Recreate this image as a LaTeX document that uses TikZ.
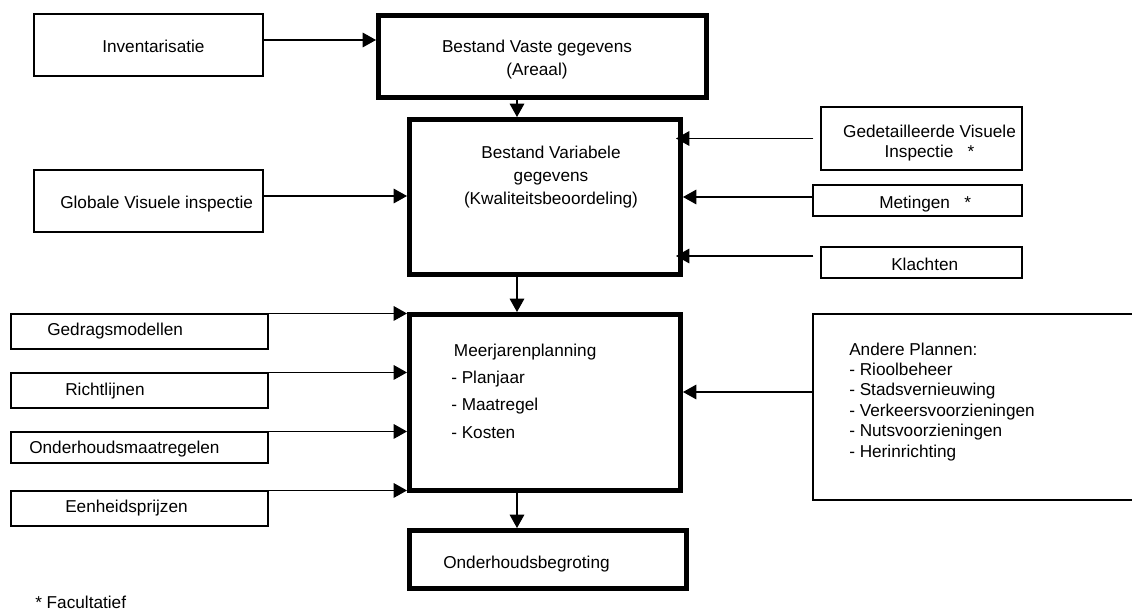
\documentclass[tikz,border=0pt]{standalone}
\usepackage{fontspec}
\setmainfont{Liberation Sans}
\usetikzlibrary{arrows.meta}
\newlength{\px}\setlength{\px}{0.75pt}
\tikzset{
  box/.style={draw, line width=0.8pt, inner sep=0pt},
  bigbox/.style={draw, line width=3.4pt, inner sep=0pt},
  arr/.style={-{Triangle[length=10pt,width=11pt]}, line width=0.8pt},
  txt/.style={inner sep=0pt, anchor=base west},
  ctxt/.style={inner sep=0pt, anchor=base, align=center},
  every node/.style={font=\fontsize{12.9}{15.3}\selectfont}
}
\begin{document}
\begin{tikzpicture}[x=0.75pt,y=-0.75pt]
\useasboundingbox (0,0) rectangle (1132,610);
\clip (0,0) rectangle (1132,610);

% main column
\node[bigbox, minimum width=328.5\px, minimum height=82.5\px] (vaste) at (542.5,56.5) {};
\node[bigbox, minimum width=271.5\px, minimum height=155.5\px] (var) at (545,197) {};
\node[bigbox, minimum width=271.5\px, minimum height=176.5\px] (meer) at (545,402.5) {};
\node[bigbox, minimum width=277.5\px, minimum height=58.5\px] (begr) at (548,559.5) {};

% multi-line texts sit on their last baseline
\node[txt] (begrtxt) at (443,568) {Onderhoudsbegroting};
\node[ctxt, font=\fontsize{12.9}{17.25}\selectfont] (vastetxt) at (537,76) {Bestand Vaste gegevens\\(Areaal)};
\node[ctxt, font=\fontsize{12.9}{16.9}\selectfont] (vartxt) at (551,204) {Bestand Variabele\\gegevens\\(Kwaliteitsbeoordeling)};
\node[txt, align=left, font=\fontsize{12.9}{20.5}\selectfont] (meertxt) at (451,438) {\hspace*{2pt}Meerjarenplanning\\- Planjaar\\- Maatregel\\- Kosten};

% inputs
\node[box, minimum width=229\px, minimum height=62\px] (inv) at (148.5,45) {};
\node[box, minimum width=229\px, minimum height=62\px] (glob) at (148.5,201) {};
\node[txt] (invtxt) at (102,53) {Inventarisatie};
\node[txt] (globtxt) at (60,208) {Globale Visuele inspectie};

\node[box, minimum width=201\px, minimum height=63\px] (ged) at (921.5,138.5) {};
\node[box, minimum width=209\px, minimum height=31\px] (met) at (917.5,200.5) {};
\node[box, minimum width=201\px, minimum height=31\px] (kla) at (921.5,262.5) {};
\node[ctxt, font=\fontsize{12.9}{15}\selectfont] (gedtxt) at (929.5,157) {Gedetailleerde Visuele\\Inspectie~~~*};
\node[txt] (mettxt) at (879,208) {Metingen~~~*};
\node[txt] (klatxt) at (891,270) {Klachten};

\foreach \n/\y/\h in {gedrag/331.5/35, richt/390.5/35, ondmaat/447.5/31, eenh/508.5/35}
  \node[box, minimum width=257\px, minimum height=\h\px] (\n) at (139.5,\y) {};
\node[txt] (gedragtxt) at (47,335) {Gedragsmodellen};
\node[txt] (richttxt) at (65,395) {Richtlijnen};
\node[txt] (ondmaattxt) at (29,453) {Onderhoudsmaatregelen};
\node[txt] (eenhtxt) at (65,512) {Eenheidsprijzen};

\node[box, minimum width=327\px, minimum height=186\px] (andere) at (976.5,407) {};
\node[txt, align=left] (anderetxt) at (849,457) {Andere Plannen:\\- Rioolbeheer\\- Stadsvernieuwing\\- Verkeersvoorzieningen\\- Nutsvoorzieningen\\- Herinrichting};

\node[txt] (fac) at (35,608) {* Facultatief};

% arrows
\coordinate (spine) at (517,0);
\draw[arr] (vaste.south -| spine) -- (var.north -| spine);
\draw[arr] (var.south -| spine) -- (meer.north -| spine);
\draw[arr] (meer.south -| spine) -- (begr.north -| spine);

\draw[arr] ([yshift=5\px]inv.east) -- ([yshift=5\px]inv.east -| vaste.west);
\draw[arr] ([yshift=5\px]glob.east) -- ([yshift=5\px]glob.east -| var.west);
\draw[arr] ([xshift=-7\px]ged.west) -- ([xshift=-7\px]ged.west -| var.east);
\draw[arr] ([yshift=3.5\px]met.west) -- ([yshift=3.5\px]met.west -| var.east);
\draw[arr] ([xshift=-7\px,yshift=6.5\px]kla.west) -- ([xshift=-7\px,yshift=6.5\px]kla.west -| var.east);
\draw[arr] ([yshift=15\px]andere.west) -- ([yshift=15\px]andere.west -| meer.east);
\foreach \n in {gedrag,richt,ondmaat,eenh}
  \draw[arr] (\n.north east) -- (\n.north east -| meer.west);
\end{tikzpicture}
\end{document}
